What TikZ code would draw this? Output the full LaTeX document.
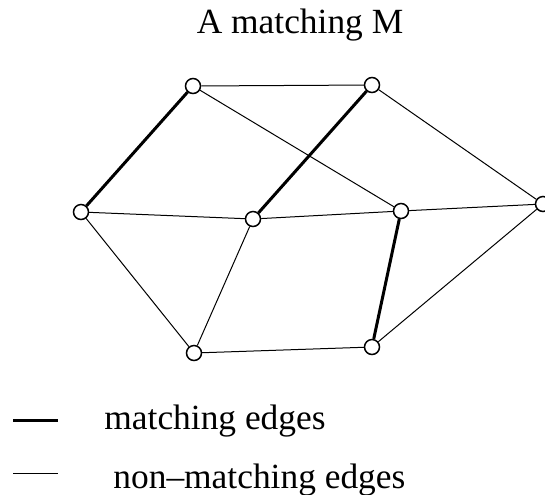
\documentclass[tikz,border=0pt]{standalone}
\usepackage{fontspec}
\setmainfont{Liberation Serif}
\usepackage{tikz}
\usetikzlibrary{positioning}
\tikzset{
  vtx/.style={circle, draw=black, line width=0.75pt, fill=white,
              minimum size=7.5pt, inner sep=0pt},
  medge/.style={line width=1.5pt},
  nedge/.style={line width=0.5pt},
  lbl/.style={anchor=base west, inner sep=0pt, font=\fontsize{17.7}{20}\selectfont},
}

\begin{document}
\begin{tikzpicture}[x=0.5pt, y=-0.5pt]
    \useasboundingbox (0,0) rectangle (545,494);
    \node[anchor=base, inner sep=0pt, font=\fontsize{17.7}{20}\selectfont] (title) at (300,33) {A matching M};
    \node[vtx] (a) at (193,86) {};
    \node[vtx] (b) at (372,85) {};
    \node[vtx] (c) at (81,212) {};
    \node[vtx] (d) at (253,219) {};
    \node[vtx] (e) at (401,211) {};
    \node[vtx] (f) at (543,204) {};
    \node[vtx] (g) at (194,353) {};
    \node[vtx] (h) at (372,347) {};
    \draw[medge] (a) -- (c);
    \draw[medge] (b) -- (d);
    \draw[medge] (e) -- (h);
    \draw[nedge] (a) -- (b);
    \draw[nedge] (a) -- (e);
    \draw[nedge] (b) -- (f);
    \draw[nedge] (c) -- (d);
    \draw[nedge] (d) -- (e);
    \draw[nedge] (e) -- (f);
    \draw[nedge] (c) -- (g);
    \draw[nedge] (d) -- (g);
    \draw[nedge] (g) -- (h);
    \draw[nedge] (h) -- (f);
    % legend
    \coordinate (m1) at (13,420);
    \coordinate (m2) at (58,420);
    \coordinate (n1) at (13,473);
    \coordinate (n2) at (58,473);
    \draw[medge] (m1) -- (m2);
    \draw[nedge] (n1) -- (n2);
    \node[lbl] (mtext) at (104,429) {matching edges};
    \node[lbl] (ntext) at (113,488) {non--matching edges};
  \end{tikzpicture}
\end{document}
